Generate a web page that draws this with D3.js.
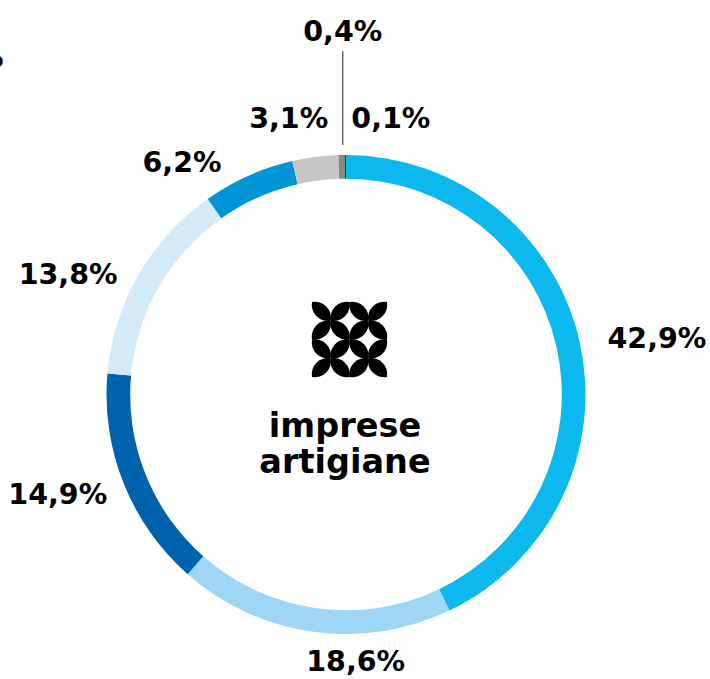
<!DOCTYPE html>
<html>
<head>
<meta charset="utf-8">
<script src="https://cdn.jsdelivr.net/npm/d3@7"></script>
<style>
  html, body { margin: 0; padding: 0; background: #ffffff; }
  svg { display: block; }
  text { font-family: "DejaVu Sans", sans-serif; font-weight: bold; fill: #000; }
</style>
</head>
<body>
<svg id="chart" width="710" height="679"></svg>
<script>
// Share of firms by category (percent), clockwise from twelve o'clock
const shares = [42.9, 18.6, 14.9, 13.8, 6.2, 3.1, 0.4, 0.1];
const shareLabels = ["42,9%", "18,6%", "14,9%", "13,8%", "6,2%", "3,1%", "0,4%", "0,1%"];
const sliceColors = ["#0bb9ee", "#9ed7f5", "#0062ad", "#d3eaf8", "#0095d5", "#c6c6c6", "#878787", "#3a3a3a"];
const centerTitle = ["imprese", "artigiane"];

// Label placement: angle nudge (degrees) from the slice centroid and distance from the centre
const labelLayout = [
  { da: 2.5, r: 316 },
  { da: -10, r: 266 },
  { da: 2.7, r: 305 },
  { da: -6.4, r: 303 },
  { da: -11, r: 285 },
  { da: -4.3, r: 283 },
  { leader: true },
  { da: 9.4, r: 280 }
];

const W = 710, H = 679;
const cx = 346, cy = 394.5;
const outerR = 239.5, innerR = 215.8;

const svg = d3.select("#chart");
const g = svg.append("g").attr("transform", `translate(${cx},${cy})`);

const pie = d3.pie().sort(null).value(d => d);
const arcs = pie(shares);
const arc = d3.arc().innerRadius(innerR).outerRadius(outerR);

g.selectAll("path.slice")
  .data(arcs)
  .join("path")
  .attr("class", "slice")
  .attr("d", arc)
  .attr("fill", (d, i) => sliceColors[i]);

const fontSize = 28.5;
const mid = d => (d.startAngle + d.endAngle) / 2;

arcs.forEach((d, i) => {
  const lay = labelLayout[i];
  if (lay.leader) {
    const a = mid(d);
    const x = (outerR + 10) * Math.sin(a) + 1.5;
    g.append("line")
      .attr("x1", x).attr("x2", x)
      .attr("y1", -(outerR + 10)).attr("y2", -(outerR + 104))
      .attr("stroke", "#4a4a4a").attr("stroke-width", 1.2);
    g.append("text")
      .attr("x", x).attr("y", -(outerR + 114))
      .attr("text-anchor", "middle")
      .attr("font-size", fontSize)
      .text(shareLabels[i]);
    return;
  }
  const a = mid(d) + lay.da * Math.PI / 180;
  g.append("text")
    .attr("x", lay.r * Math.sin(a))
    .attr("y", -lay.r * Math.cos(a))
    .attr("dy", "0.36em")
    .attr("text-anchor", "middle")
    .attr("font-size", fontSize)
    .text(shareLabels[i]);
});

// Centre emblem: a lattice of lens-shaped petals, four crosses in a 2x2 grid
const icon = svg.append("g").attr("transform", "translate(349.5,339.5)");
const s = 18.75;                                  // half-spacing of the lattice
const chord = s * Math.SQRT2;                     // petal length
const petalR = chord / (2 * Math.sin(55 * Math.PI / 180)); // arc radius of each petal side
const petals = [];
[[-1, -1], [1, -1], [-1, 1], [1, 1]].forEach(([px, py]) => {
  const ox = px * s, oy = py * s;
  [[-1, -1], [1, -1], [-1, 1], [1, 1]].forEach(([dx, dy]) => {
    petals.push([ox, oy, ox + dx * s, oy + dy * s]);
  });
});
icon.selectAll("path")
  .data(petals)
  .join("path")
  .attr("d", ([x1, y1, x2, y2]) =>
    `M${x1},${y1}A${petalR},${petalR} 0 0 1 ${x2},${y2}A${petalR},${petalR} 0 0 1 ${x1},${y1}Z`)
  .attr("fill", "#000");

// Centre title
svg.append("text")
  .attr("x", 345).attr("y", 437)
  .attr("text-anchor", "middle")
  .attr("font-size", 33.5)
  .selectAll("tspan")
  .data(centerTitle)
  .join("tspan")
  .attr("x", 345)
  .attr("dy", (d, i) => i === 0 ? 0 : 36)
  .text(d => d);

// Edge of a neighbouring label running off the left side
svg.append("text")
  .attr("x", 3.5).attr("y", 67)
  .attr("text-anchor", "end")
  .attr("font-size", fontSize)
  .text("0,0%");
</script>
</body>
</html>
